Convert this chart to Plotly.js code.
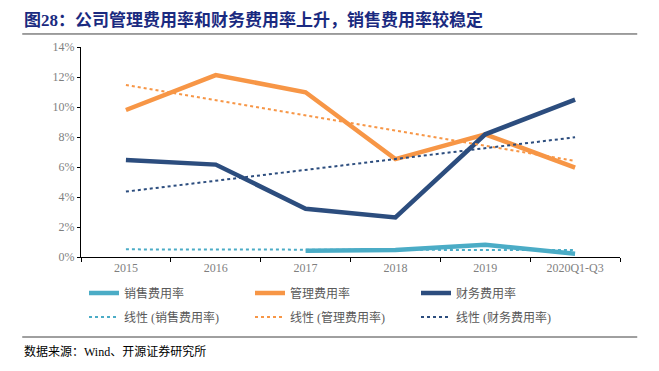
<!DOCTYPE html>
<html><head><meta charset="utf-8">
<script src="https://cdn.plot.ly/plotly-3.0.1.min.js"></script>
<style>html,body{margin:0;padding:0;background:#fff;}#c{width:659px;height:371px;}</style>
</head><body><div id="c"></div>
<script>
const categories = ['2015','2016','2017','2018','2019','2020Q1-Q3'];
const salesRate = [null, null, 0.42, 0.47, 0.82, 0.22];
const mgmtRate = [9.8, 12.13, 10.98, 6.53, 8.18, 5.96];
const finRate = [6.47, 6.16, 3.22, 2.64, 8.18, 10.49];
const trendCats = ['2015','2020Q1-Q3'];
const salesTrend = [0.51, 0.46];
const mgmtTrend = [11.47, 6.4];
const finTrend = [4.36, 7.98];
const yTicks = [0,2,4,6,8,10,12,14];
const yTickText = ['0%','2%','4%','6%','8%','10%','12%','14%'];

const cyan = '#4BACC6', orange = '#F79646', navy = '#2C4D7E';
const cjk = '"Liberation Serif", "Noto Sans CJK SC", serif';

const traces = [
  {x: categories, y: salesRate, name: '销售费用率', mode: 'lines', line: {color: cyan, width: 4.5}, legend: 'legend'},
  {x: categories, y: mgmtRate, name: '管理费用率', mode: 'lines', line: {color: orange, width: 4.5}, legend: 'legend'},
  {x: categories, y: finRate, name: '财务费用率', mode: 'lines', line: {color: navy, width: 4.5}, legend: 'legend'},
  {x: trendCats, y: salesTrend, name: '线性 (销售费用率)', mode: 'lines', line: {color: cyan, width: 2, dash: 'dot'}, legend: 'legend2'},
  {x: trendCats, y: mgmtTrend, name: '线性 (管理费用率)', mode: 'lines', line: {color: orange, width: 2, dash: 'dot'}, legend: 'legend2'},
  {x: trendCats, y: finTrend, name: '线性 (财务费用率)', mode: 'lines', line: {color: navy, width: 2, dash: 'dot'}, legend: 'legend2'}
];

const legendFont = {family: cjk, size: 12, color: '#595959'};
const layout = {
  width: 659, height: 371,
  margin: {l: 81, r: 39, t: 47, b: 114},
  paper_bgcolor: '#fff', plot_bgcolor: '#fff',
  showlegend: true,
  xaxis: {
    type: 'category', categoryarray: categories, categoryorder: 'array',
    range: [-0.5, 5.5],
    showgrid: false, zeroline: false,
    showline: true, linecolor: '#000', linewidth: 1,
    ticks: 'outside', tickson: 'boundaries', ticklen: 4, tickcolor: '#000',
    tickfont: {family: '"Liberation Serif", serif', size: 12, color: '#7f7f7f'}
  },
  yaxis: {
    range: [0, 14], tickvals: yTicks, ticktext: yTickText,
    showgrid: false, zeroline: false,
    showline: true, linecolor: '#000', linewidth: 1,
    ticks: 'outside', ticklen: 3, tickcolor: '#000',
    tickfont: {family: '"Liberation Serif", serif', size: 12, color: '#7f7f7f'}
  },
  legend: {orientation: 'h', x: 84, xref: 'paper', xanchor: 'left', y: 293, yanchor: 'middle',
    font: legendFont, entrywidth: 121, entrywidthmode: 'pixels', itemwidth: 30, tracegroupgap: 0, bgcolor: 'rgba(0,0,0,0)'},
  legend2: {orientation: 'h', xanchor: 'left', yanchor: 'middle',
    font: legendFont, entrywidth: 121, entrywidthmode: 'pixels', itemwidth: 30, bgcolor: 'rgba(0,0,0,0)'},
  shapes: [
    {type: 'line', xref: 'paper', yref: 'paper', x0: -0.109, x1: 1.032, y0: 1.062, y1: 1.062, line: {color: '#404040', width: 1}},
    {type: 'line', xref: 'paper', yref: 'paper', x0: -0.109, x1: 1.032, y0: -0.381, y1: -0.381, line: {color: '#404040', width: 1}}
  ],
  annotations: [
    {text: '<b>图28：公司管理费用率和财务费用率上升，销售费用率较稳定</b>', xref: 'paper', yref: 'paper', x: -0.109, y: 1.13, xanchor: 'left', yanchor: 'middle', showarrow: false,
     font: {family: '"Liberation Serif", "Noto Sans CJK SC", serif', size: 17, color: '#1a2a80'}},
    {text: '数据来源：Wind、开源证券研究所', xref: 'paper', yref: 'paper', x: -0.109, y: -0.452, xanchor: 'left', yanchor: 'middle', showarrow: false,
     font: {family: cjk, size: 12, color: '#000'}}
  ]
};
// convert legend pixel positions to paper coords
const pw = 659 - 81 - 39, ph = 371 - 47 - 114;
layout.legend.x = (84 - 81) / pw;
layout.legend.y = (257 - 293) / ph;
layout.legend2.x = (84 - 81) / pw;
layout.legend2.y = (257 - 317) / ph;
Plotly.newPlot('c', traces, layout, {staticPlot: true});
</script></body></html>
